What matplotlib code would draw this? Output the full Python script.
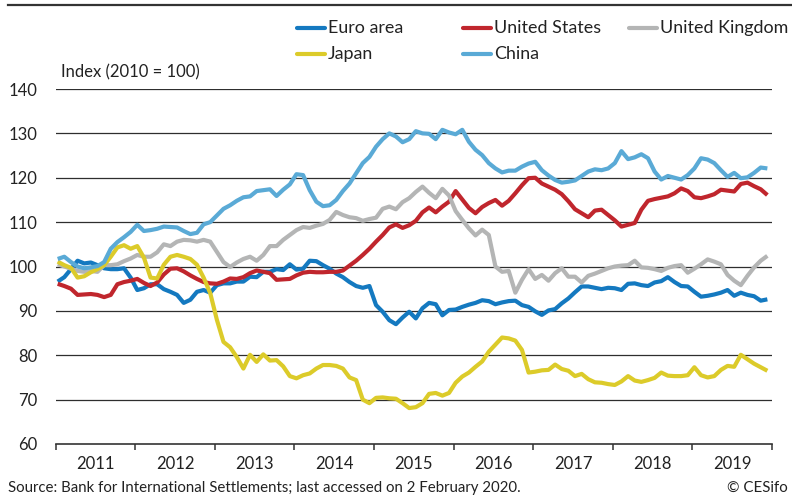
import numpy as np
import matplotlib
matplotlib.use("Agg")
import matplotlib.pyplot as plt
from matplotlib.lines import Line2D

plt.rcParams['font.family'] = ['Lato', 'DejaVu Sans']

years = list(range(2011, 2020))
n_months = 108

euro_area = [96.6, 97.6, 99.4, 101.3, 100.7, 100.9, 100.3, 99.6, 99.4, 99.4, 99.6, 97.5,
             94.7, 95.1, 96.0, 96.0, 94.9, 94.3, 93.6, 91.8, 92.5, 94.3, 94.7, 94.1,
             95.8, 96.2, 96.2, 96.6, 96.6, 97.7, 97.6, 98.8, 98.8, 99.4, 99.2, 100.5,
             99.3, 99.5, 101.3, 101.2, 100.3, 99.5, 98.4, 97.6, 96.5, 95.6, 95.2, 95.6,
             91.3, 89.8, 87.9, 87.0, 88.5, 89.8, 88.3, 90.6, 91.8, 91.5, 89.0, 90.2,
             90.3, 90.9, 91.4, 91.8, 92.4, 92.2, 91.5, 91.9, 92.2, 92.3, 91.3, 90.9,
             89.9, 89.1, 90.1, 90.4, 91.7, 92.8, 94.2, 95.5, 95.5, 95.2, 94.9, 95.2,
             95.1, 94.7, 96.1, 96.2, 95.8, 95.6, 96.4, 96.7, 97.6, 96.5, 95.6, 95.5,
             94.3, 93.2, 93.4, 93.7, 94.1, 94.7, 93.4, 94.1, 93.6, 93.3, 92.3, 92.6]

united_states = [96.1, 95.6, 95.0, 93.6, 93.7, 93.8, 93.6, 93.1, 93.6, 96.0, 96.5, 96.8,
                 97.2, 96.3, 95.6, 96.4, 98.2, 99.5, 99.6, 98.9, 98.0, 97.2, 96.5, 96.2,
                 96.1, 96.6, 97.3, 97.2, 97.6, 98.5, 99.1, 98.8, 98.5, 97.0, 97.1, 97.2,
                 98.0, 98.6, 98.8, 98.7, 98.7, 98.8, 98.8, 99.1, 100.2, 101.3, 102.6, 104.0,
                 105.6, 107.1, 108.8, 109.5, 108.7, 109.3, 110.3, 112.2, 113.3, 112.2, 113.5, 114.6,
                 117.0, 115.1, 113.2, 112.0, 113.4, 114.3, 115.0, 113.7, 114.8, 116.5, 118.3, 119.9,
                 120.0, 118.7, 118.0, 117.3, 116.3, 114.7, 112.9, 112.0, 111.1, 112.6, 112.8, 111.6,
                 110.4, 109.0, 109.4, 109.8, 112.8, 114.8, 115.2, 115.5, 115.8, 116.5, 117.6, 117.0,
                 115.6, 115.4, 115.8, 116.3, 117.3, 117.1, 116.9, 118.6, 118.9, 118.1, 117.4, 116.1]

united_kingdom = [100.5, 100.0, 99.5, 99.0, 98.8, 99.0, 98.8, 100.3, 100.3, 100.5, 101.2, 101.8,
                  102.6, 102.2, 102.2, 103.2, 105.0, 104.6, 105.6, 106.0, 105.9, 105.6, 106.0, 105.6,
                  103.3, 101.0, 99.9, 100.9, 101.7, 102.2, 101.3, 102.6, 104.6, 104.6, 106.0, 107.1,
                  108.2, 108.9, 108.7, 109.2, 109.6, 110.5, 112.3, 111.6, 111.1, 110.9, 110.3, 110.7,
                  111.0, 113.0, 113.5, 112.9, 114.5, 115.4, 116.8, 118.0, 116.6, 115.4, 117.5, 116.0,
                  112.5, 110.5, 108.6, 107.0, 108.3, 107.1, 100.0, 98.8, 99.0, 94.1, 97.0, 99.4,
                  97.2, 98.1, 96.8, 98.5, 99.6, 97.7, 97.7, 96.4, 97.9, 98.4, 99.0, 99.6,
                  100.0, 100.2, 100.3, 101.3, 99.8, 99.7, 99.4, 99.0, 99.7, 100.1, 100.3, 98.6,
                  99.5, 100.5, 101.6, 101.1, 100.5, 98.1, 96.8, 95.8, 97.9, 99.8, 101.3, 102.4]

japan = [101.1, 100.3, 99.7, 97.5, 97.8, 98.7, 99.4, 100.3, 102.2, 104.3, 104.8, 104.0,
         104.6, 102.0, 97.5, 97.3, 100.4, 102.2, 102.6, 102.2, 101.7, 100.4, 97.5, 94.0,
         88.0, 83.0, 81.8, 79.6, 77.0, 80.1, 78.5, 80.2, 78.8, 78.9, 77.5, 75.3,
         74.8, 75.5, 75.9, 77.0, 77.8, 77.8, 77.6, 77.0, 75.0, 74.4, 70.0, 69.2,
         70.4, 70.5, 70.3, 70.2, 69.2, 68.1, 68.3, 69.2, 71.3, 71.5, 70.9, 71.5,
         73.8, 75.2, 76.1, 77.4, 78.6, 80.8, 82.4, 84.0, 83.8, 83.3, 81.2, 76.1,
         76.3, 76.6, 76.7, 77.9, 76.9, 76.5, 75.3, 75.8, 74.6, 73.9, 73.8, 73.5,
         73.3, 74.1, 75.3, 74.3, 74.0, 74.4, 74.9, 76.1, 75.4, 75.3, 75.3, 75.5,
         77.3, 75.5, 75.0, 75.3, 76.7, 77.6, 77.4, 80.1, 79.1, 78.1, 77.3, 76.5]

china = [101.7, 102.2, 101.0, 100.0, 99.6, 99.8, 100.1, 101.0, 104.0, 105.5, 106.6, 107.8,
         109.4, 108.0, 108.2, 108.5, 109.0, 108.9, 108.8, 108.0, 107.3, 107.6, 109.5, 110.0,
         111.5, 113.0, 113.8, 114.8, 115.6, 115.8, 117.0, 117.2, 117.4, 115.9, 117.3, 118.5,
         120.8, 120.6, 117.2, 114.6, 113.6, 113.8, 115.0, 117.0, 118.7, 121.0, 123.3, 124.7,
         127.0, 128.7, 130.0, 129.3, 128.0, 128.7, 130.5, 130.0, 129.9, 128.7, 130.8, 130.2,
         129.8, 130.8, 128.1, 126.3, 125.1, 123.3, 122.1, 121.2, 121.6, 121.6, 122.5, 123.2,
         123.6, 121.7, 120.5, 119.5, 118.9, 119.1, 119.4, 120.4, 121.4, 121.9, 121.7, 122.1,
         123.3, 126.0, 124.2, 124.6, 125.3, 124.4, 121.4, 119.6, 120.4, 120.0, 119.6, 120.6,
         122.1, 124.4, 124.1, 123.3, 121.7, 120.2, 121.1, 119.9, 120.1, 121.1, 122.3, 122.1]

series_names = ["Euro area", "United States", "United Kingdom", "Japan", "China"]
series_values = [euro_area, united_states, united_kingdom, japan, china]
colors = ["#1479c0", "#c0262d", "#b4b5b5", "#dccb2a", "#5aaad6"]

y_ticks = [60, 70, 80, 90, 100, 110, 120, 130, 140]

W, H = 792, 499
fig = plt.figure(figsize=(W / 100, H / 100), dpi=100)
ax_left, ax_right, ax_top, ax_bot = 55.7, 772, 89, 444
ax = fig.add_axes([ax_left / W, 1 - ax_bot / H, (ax_right - ax_left) / W, (ax_bot - ax_top) / H])

dates = years[0] + (np.arange(n_months) + 0.3) / 12

for name, vals, c in zip(series_names, series_values, colors):
    ax.plot(dates, vals, color=c, lw=3.0, solid_joinstyle='round', solid_capstyle='butt', zorder=3)

ax.set_xlim(years[0], years[-1] + 1)
ax.set_ylim(60, 140)
for yv in y_ticks[1:]:
    ax.axhline(yv, color='#2e2e2e', lw=0.9, zorder=1)

for s in ['top', 'left', 'right']:
    ax.spines[s].set_visible(False)
ax.spines['bottom'].set_color('#333333')
ax.spines['bottom'].set_linewidth(1.2)

ax.set_yticks(y_ticks)
ax.set_yticklabels([str(v) for v in y_ticks])
ax.tick_params(axis='y', length=0, pad=13, labelsize=12, labelcolor='#222222')

ax.set_xticks(list(range(years[0], years[-1] + 2)))
ax.set_xticklabels([])
ax.set_xticks([y + 0.5 for y in years], minor=True)
ax.set_xticklabels([str(y) for y in years], minor=True)
ax.tick_params(axis='x', which='major', length=4, width=1.1, color='#333333', direction='out')
ax.tick_params(axis='x', which='minor', length=0, pad=8.5, labelsize=12, labelcolor='#222222')

# top rule
fig.add_artist(Line2D([8 / W, 1.0], [1 - 5 / H, 1 - 5 / H], transform=fig.transFigure,
                      color='#333333', lw=1.6))

# legend (manual placement)
leg_pos = [(297, 28), (463, 28), (629, 28), (297, 54), (463, 54)]
for (lx, ly), name, c in zip(leg_pos, series_names, colors):
    fig.add_artist(Line2D([lx / W, (lx + 28) / W], [1 - ly / H, 1 - ly / H], transform=fig.transFigure,
                          color=c, lw=3.0, solid_capstyle='round'))
    fig.text((lx + 31) / W, 1 - ly / H, name, ha='left', va='center', fontsize=12.9, color='#222222')

fig.text(61 / W, 1 - 72 / H, "Index (2010 = 100)", ha='left', va='center', fontsize=12, color='#222222')
fig.text(8 / W, 1 - 488 / H, "Source: Bank for International Settlements; last accessed on 2 February 2020.",
         ha='left', va='center', fontsize=10.8, color='#222222')
fig.text(788 / W, 1 - 488 / H, "© CESifo", ha='right', va='center', fontsize=10.8, color='#222222')

fig.savefig("out.png", dpi=100)
